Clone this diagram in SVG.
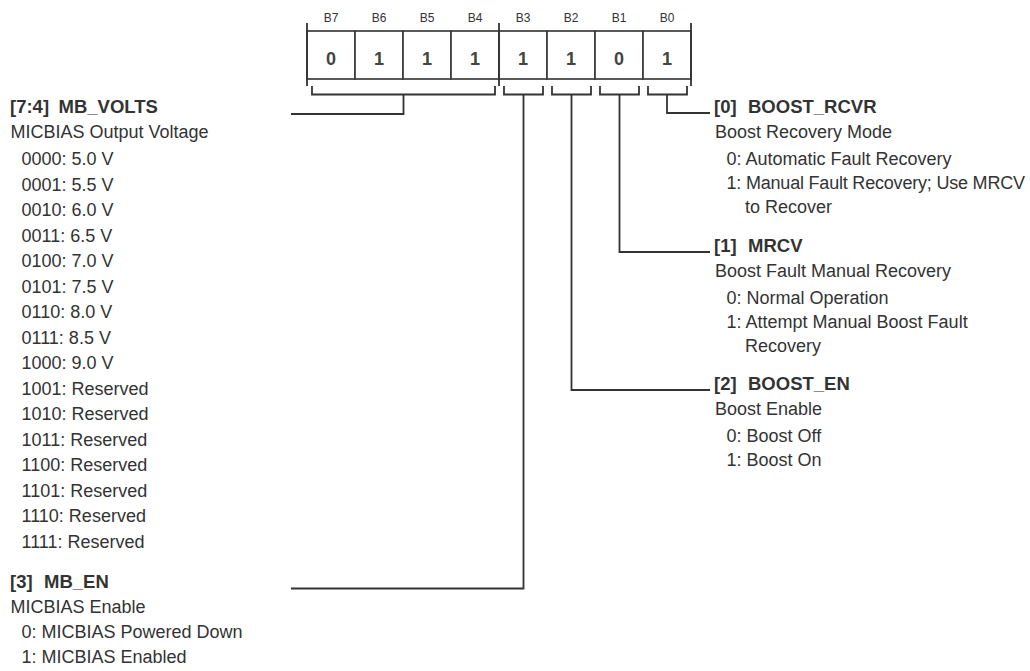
<svg xmlns="http://www.w3.org/2000/svg" width="1030" height="671" viewBox="0 0 1030 671">
<style>
.bg{fill:#ffffff}
.cell{fill:#ffffff;stroke:#3c3c3c;stroke-width:1.7}
.ln{fill:none;stroke:#333333;stroke-width:1.8}
.bit{font-family:"Liberation Sans",Arial,sans-serif;font-size:12px;fill:#333333;text-anchor:middle}
.val{font-family:"Liberation Sans",Arial,sans-serif;font-size:18px;font-weight:bold;fill:#444444;text-anchor:middle}
.hd{font-family:"Liberation Sans",Arial,sans-serif;font-size:18.5px;font-weight:bold;fill:#333333}
.tx{font-family:"Liberation Sans",Arial,sans-serif;font-size:18px;fill:#333333}
.tight{letter-spacing:-0.2px}
</style>
<rect class="bg" x="0" y="0" width="1030" height="671"/>
<g id="register">
<rect class="cell" x="307" y="31" width="48" height="48"/>
<rect class="cell" x="355" y="31" width="48" height="48"/>
<rect class="cell" x="403" y="31" width="48" height="48"/>
<rect class="cell" x="451" y="31" width="48" height="48"/>
<rect class="cell" x="499" y="31" width="48" height="48"/>
<rect class="cell" x="547" y="31" width="48" height="48"/>
<rect class="cell" x="595" y="31" width="48" height="48"/>
<rect class="cell" x="643" y="31" width="48" height="48"/>
<path class="ln" d="M307,23V86M499,23V86M691,23V86"/>
<text class="bit" x="331" y="22">B7</text>
<text class="bit" x="379" y="22">B6</text>
<text class="bit" x="427" y="22">B5</text>
<text class="bit" x="475" y="22">B4</text>
<text class="bit" x="523" y="22">B3</text>
<text class="bit" x="571" y="22">B2</text>
<text class="bit" x="619" y="22">B1</text>
<text class="bit" x="667" y="22">B0</text>
<text class="val" x="331" y="65">0</text>
<text class="val" x="379" y="65">1</text>
<text class="val" x="427" y="65">1</text>
<text class="val" x="475" y="65">1</text>
<text class="val" x="523" y="65">1</text>
<text class="val" x="571" y="65">1</text>
<text class="val" x="619" y="65">0</text>
<text class="val" x="667" y="65">1</text>
</g>
<g id="connectors">
<path class="ln" d="M312,86V94.5H495V86M403.5,94.5V114H291"/>
<path class="ln" d="M504,86V94.5H543V86M523.5,94.5V588.5H291"/>
<path class="ln" d="M552,86V94.5H591V86M571.5,94.5V390H710"/>
<path class="ln" d="M600,86V94.5H639V86M619.5,94.5V252H710"/>
<path class="ln" d="M648,86V94.5H687V86M667,94.5V113H710"/>
</g>
<g id="field-mb-volts">
<text class="hd" y="113"><tspan x="10">[7:4]</tspan><tspan x="58.5">MB_VOLTS</tspan></text>
<text class="tx" x="10.5" y="137.5">MICBIAS Output Voltage</text>
<text class="tx" x="21.5" y="165">0000: 5.0 V</text>
<text class="tx" x="21.5" y="190.5">0001: 5.5 V</text>
<text class="tx" x="21.5" y="216">0010: 6.0 V</text>
<text class="tx" x="21.5" y="241.5">0011: 6.5 V</text>
<text class="tx" x="21.5" y="267">0100: 7.0 V</text>
<text class="tx" x="21.5" y="292.5">0101: 7.5 V</text>
<text class="tx" x="21.5" y="318">0110: 8.0 V</text>
<text class="tx" x="21.5" y="343.5">0111: 8.5 V</text>
<text class="tx" x="21.5" y="369">1000: 9.0 V</text>
<text class="tx" x="21.5" y="394.5">1001: Reserved</text>
<text class="tx" x="21.5" y="420">1010: Reserved</text>
<text class="tx" x="21.5" y="445.5">1011: Reserved</text>
<text class="tx" x="21.5" y="471">1100: Reserved</text>
<text class="tx" x="21.5" y="496.5">1101: Reserved</text>
<text class="tx" x="21.5" y="522">1110: Reserved</text>
<text class="tx" x="21.5" y="547.5">1111: Reserved</text>
</g>
<g id="field-mb-en">
<text class="hd" y="588"><tspan x="10">[3]</tspan><tspan x="44">MB_EN</tspan></text>
<text class="tx" x="10.5" y="612.5">MICBIAS Enable</text>
<text class="tx" x="21.5" y="638">0: MICBIAS Powered Down</text>
<text class="tx" x="21.5" y="663">1: MICBIAS Enabled</text>
</g>
<g id="field-boost-rcvr">
<text class="hd" y="113"><tspan x="714">[0]</tspan><tspan x="748">BOOST_RCVR</tspan></text>
<text class="tx" x="715" y="137.5">Boost Recovery Mode</text>
<text class="tx" x="726.5" y="165">0: Automatic Fault Recovery</text>
<text class="tx tight" x="726.5" y="189">1: Manual Fault Recovery; Use MRCV</text>
<text class="tx" x="745" y="213">to Recover</text>
</g>
<g id="field-mrcv">
<text class="hd" y="252"><tspan x="714">[1]</tspan><tspan x="748">MRCV</tspan></text>
<text class="tx" x="715" y="276.5">Boost Fault Manual Recovery</text>
<text class="tx" x="726.5" y="304">0: Normal Operation</text>
<text class="tx" x="726.5" y="328">1: Attempt Manual Boost Fault</text>
<text class="tx" x="745" y="352">Recovery</text>
</g>
<g id="field-boost-en">
<text class="hd" y="390"><tspan x="714">[2]</tspan><tspan x="748">BOOST_EN</tspan></text>
<text class="tx" x="715" y="414.5">Boost Enable</text>
<text class="tx" x="726.5" y="442">0: Boost Off</text>
<text class="tx" x="726.5" y="466">1: Boost On</text>
</g>
</svg>
